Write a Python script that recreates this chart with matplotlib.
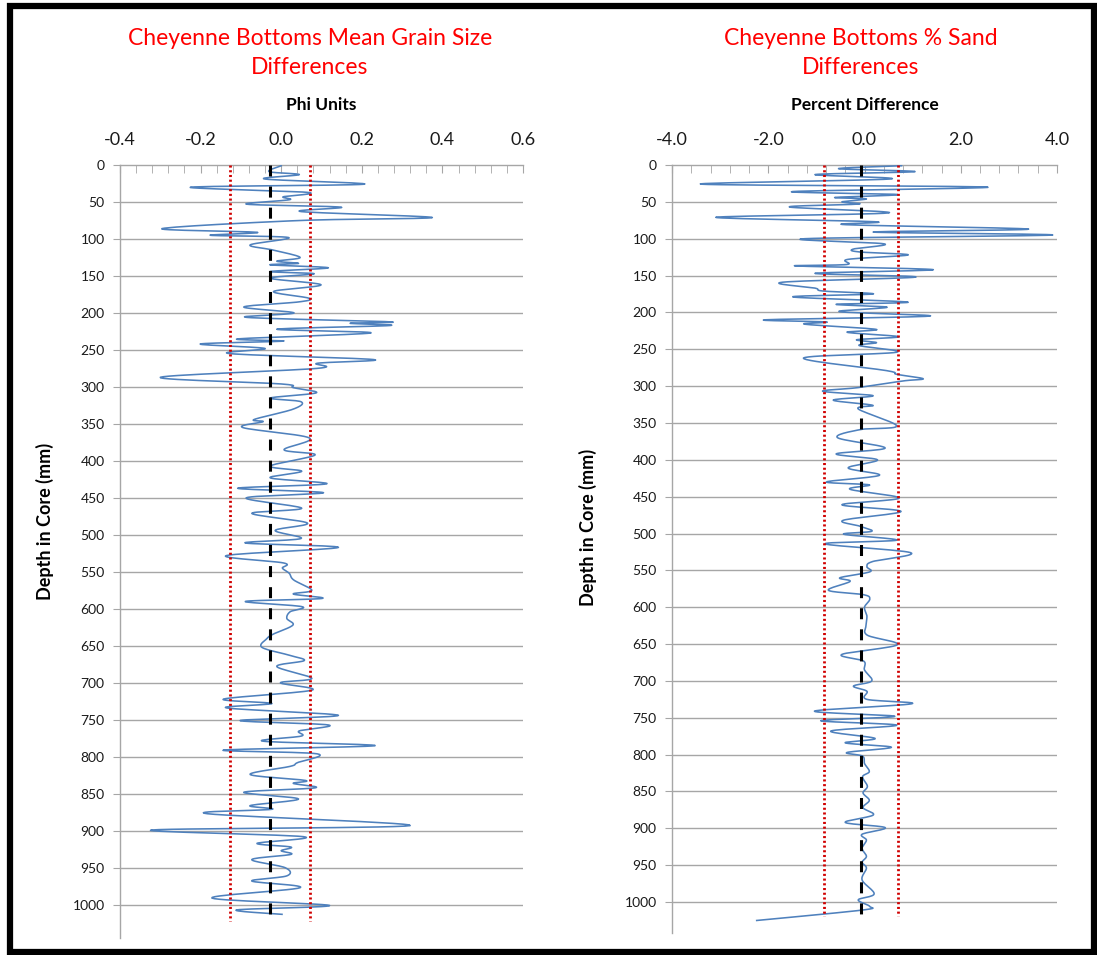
import numpy as np
import matplotlib
matplotlib.use("Agg")
import matplotlib.pyplot as plt
from matplotlib.patches import Rectangle

plt.rcParams['font.family'] = ['Lato', 'DejaVu Sans']

# Mean grain size differences (phi units) down the core
grain_depth = [1, 9, 13, 19, 26, 30, 37, 43, 47, 53, 57, 63, 71, 75, 86, 91, 95, 98,
               108, 115, 125, 130, 133, 135, 139, 144, 147, 153, 162, 171, 180, 185,
               192, 200, 206, 212, 214, 217, 222, 227, 235, 238, 242, 248, 255, 263,
               268, 275, 287, 296, 301, 308, 315, 320, 330, 344, 347, 355, 369, 385,
               392, 407, 414, 423, 431, 437, 443, 450, 464, 471, 484, 494, 505, 511,
               517, 528, 538, 545, 552, 561, 575, 580, 586, 590, 597, 604, 613, 622,
               634, 640, 652, 663, 670, 678, 694, 700, 710, 722, 728, 734, 744, 751,
               757, 765, 772, 779, 785, 791, 796, 808, 813, 824, 832, 836, 842, 848,
               857, 866, 871, 877, 893, 899, 908, 917, 922, 927, 932, 939, 950, 961,
               968, 977, 991, 1001, 1007, 1013]
grain_diff = [0.00, -0.03, 0.045, -0.04, 0.205, -0.225, 0.065, 0.005, 0.02, -0.085,
              0.148, 0.05, 0.375, 0.047, -0.296, -0.06, -0.176, 0.018, -0.077, -0.02,
              0.047, -0.011, 0.043, -0.027, 0.117, -0.027, 0.082, -0.027, 0.099,
              -0.019, 0.068, 0.045, -0.093, 0.032, -0.085, 0.27, 0.171, 0.27, -0.011,
              0.223, -0.106, 0.006, -0.201, -0.04, -0.127, 0.229, 0.09, 0.088, -0.300,
              0.0, 0.03, 0.087, -0.027, 0.049, 0.03, -0.067, -0.045, -0.095, 0.07,
              0.007, 0.084, -0.027, 0.051, -0.027, 0.113, -0.108, 0.105, -0.087,
              0.051, -0.073, 0.065, -0.015, 0.049, -0.089, 0.142, -0.136, 0.006,
              0.003, 0.02, 0.031, 0.076, 0.03, 0.101, -0.089, 0.051, 0.022, 0.014,
              0.029, -0.019, -0.035, -0.048, 0.022, 0.057, -0.011, 0.076, -0.002,
              0.076, -0.143, -0.023, -0.135, 0.142, -0.102, 0.117, 0.045, 0.05,
              -0.044, 0.233, -0.143, 0.089, 0.04, 0.022, -0.077, 0.06, 0.03, 0.084,
              -0.093, 0.043, -0.077, -0.023, -0.183, 0.32, -0.321, 0.055, -0.06,
              0.024, 0.0, 0.024, -0.073, 0.01, 0.014, -0.073, 0.047, -0.172, 0.12,
              -0.11, 0.002]
grain_mean = -0.028
grain_sd = 0.100
grain_mean_end = 1015
grain_sd_end = 1022

# Percent sand differences down the core
sand_depth = [1, 5, 9, 13, 19, 26, 30, 36, 40, 44, 46, 50, 53, 57, 65, 71, 77, 81,
              87, 91, 95, 100, 107, 114, 118, 122, 128, 135, 137, 142, 147, 152, 159,
              167, 171, 175, 179, 186, 189, 193, 199, 205, 210, 213, 216, 223, 227,
              233, 237, 241, 245, 254, 262, 279, 284, 290, 293, 302, 307, 313, 319,
              326, 331, 354, 359, 370, 384, 392, 400, 411, 421, 430, 434, 440, 452,
              461, 470, 482, 490, 497, 501, 509, 514, 526, 538, 545, 552, 560, 565,
              577, 583, 589, 600, 612, 625, 638, 651, 664, 673, 685, 700, 707, 714,
              725, 731, 741, 748, 754, 760, 768, 778, 784, 790, 797, 802, 812, 823,
              830, 843, 852, 862, 872, 882, 892, 899, 908, 916, 927, 938, 946, 954,
              970, 989, 997, 1006, 1011, 1025]
sand_diff = [0.77, -0.54, 1.05, -1.03, 0.53, -3.4, 2.56, -1.49, 0.68, -0.61, 0.04,
             -0.47, -0.13, -1.56, 0.50, -3.09, 0.22, -0.38, 3.41, 0.18, 3.91, -1.24,
             0.41, -0.23, -0.1, 0.91, -0.34, -0.37, -1.41, 1.43, -1.03, 1.07, -1.70,
             -1.03, -0.86, 0.18, -1.49, 0.90, -0.59, 0.47, -0.52, 1.35, -2.05, -0.79,
             -1.24, 0.24, -0.36, 0.71, -0.16, 0.25, -0.11, 0.67, -1.27, 0.46, 0.67,
             1.22, 0.8, -0.13, -0.87, 0.18, -0.65, 0.17, -0.13, 0.67, -0.09, -0.56,
             0.43, -0.59, 0.27, -0.34, 0.31, -0.79, 0.10, -0.30, 0.72, -0.47, 0.76,
             -0.44, -0.1, 0.15, -0.43, 0.67, -0.82, 0.96, 0.17, 0.05, 0.11, -0.51,
             -0.30, -0.75, -0.02, 0.11, 0.0, 0.05, 0.03, 0.06, 0.68, -0.47, -0.02,
             0.0, 0.15, -0.23, 0.05, 0.05, 0.98, -1.04, 0.63, -0.91, 0.67, -0.70,
             0.22, -0.40, 0.56, -0.36, -0.04, 0.0, 0.10, -0.04, 0.06, -0.03, 0.10,
             -0.03, 0.18, -0.40, 0.43, -0.05, 0.04, -0.05, 0.04, -0.05, 0.04, -0.05,
             0.20, -0.13, 0.11, -0.06, -2.24]
sand_mean = -0.08
sand_sd = 0.77
sand_mean_end = 1024
sand_sd_end = 1019

depth_ticks = np.arange(0, 1001, 50)
grain_ticks = [-0.4, -0.2, 0.0, 0.2, 0.4, 0.6]
sand_ticks = [-4.0, -2.0, 0.0, 2.0, 4.0]

LINE_BLUE = '#4f81bd'
GRID = '#a6a6a6'
RED = '#d00000'


def smooth(x, y, n=14):
    """Catmull-Rom curve through the points, like a smoothed spreadsheet line."""
    pts = np.column_stack([x, y]).astype(float)
    p = np.vstack([pts[0], pts, pts[-1]])
    t = np.linspace(0, 1, n, endpoint=False)[:, None]
    out = []
    for i in range(1, len(p) - 2):
        p0, p1, p2, p3 = p[i - 1], p[i], p[i + 1], p[i + 2]
        seg = 0.5 * (2 * p1 + (-p0 + p2) * t + (2 * p0 - 5 * p1 + 4 * p2 - p3) * t ** 2
                     + (-p0 + 3 * p1 - 3 * p2 + p3) * t ** 3)
        out.append(seg)
    out.append(pts[-1:])
    c = np.vstack(out)
    return c[:, 0], c[:, 1]


def core_panel(ax, vals, depth, mean, sd, mean_end, sd_end, xticks, minor, xlim, ylim,
               xlabel, fmt):
    for d in depth_ticks[1:]:
        ax.axhline(d, color=GRID, lw=1.0, zorder=0)
    sx, sy = smooth(vals, depth)
    ax.plot(sx, sy, color=LINE_BLUE, lw=1.15, zorder=3)
    ax.plot([mean, mean], [0, mean_end], color='k', lw=2.2, dashes=(3.6, 3.3), zorder=4)
    for v in (mean - sd, mean + sd):
        ax.plot([v, v], [0, sd_end], color=RED, lw=2.0, dashes=(0.75, 0.95), zorder=4)
    ax.set_xlim(xlim)
    ax.set_ylim(ylim, 0)
    ax.xaxis.tick_top()
    ax.xaxis.set_label_position('top')
    ax.set_xticks(xticks)
    ax.set_xticks(minor, minor=True)
    ax.set_xticklabels([fmt.format(v) for v in xticks])
    ax.tick_params(axis='x', which='both', direction='in', length=6, color=GRID,
                   labelsize=13, pad=12, labelcolor='#1a1a1a')
    ax.set_yticks(depth_ticks)
    ax.tick_params(axis='y', direction='out', length=5, color=GRID, labelsize=10,
                   pad=6, labelcolor='#1a1a1a')
    ax.set_xlabel(xlabel, fontsize=12.5, fontweight='bold', labelpad=16)
    for s in ('right', 'bottom'):
        ax.spines[s].set_visible(False)
    for s in ('left', 'top'):
        ax.spines[s].set_color(GRID)
        ax.spines[s].set_linewidth(1.0)


fig = plt.figure(figsize=(10.97, 9.55), dpi=100)
W, H = 1097.0, 955.0

ax1 = fig.add_axes([120 / W, 1 - 938 / H, 403 / W, 773 / H])
core_panel(ax1, grain_diff, grain_depth, grain_mean, grain_sd, grain_mean_end, grain_sd_end,
           grain_ticks, np.arange(-0.4, 0.6001, 0.04), (-0.4, 0.6), 1045,
           'Phi Units', '{:.1f}')

ax2 = fig.add_axes([672 / W, 1 - 933 / H, 385 / W, 768 / H])
core_panel(ax2, sand_diff, sand_depth, sand_mean, sand_sd, sand_mean_end, sand_sd_end,
           sand_ticks, np.arange(-4.0, 4.001, 0.4), (-4.0, 4.0), 1042,
           'Percent Difference', '{:.1f}')

fig.text(310 / W, 1 - 53 / H, 'Cheyenne Bottoms Mean Grain Size\nDifferences',
         color='red', fontsize=16.5, ha='center', va='center', linespacing=1.5)
fig.text(861 / W, 1 - 53 / H, 'Cheyenne Bottoms % Sand\nDifferences',
         color='red', fontsize=16.5, ha='center', va='center', linespacing=1.5)
fig.text(45 / W, 1 - 521 / H, 'Depth in Core (mm)', rotation=90, fontsize=13,
         fontweight='bold', ha='center', va='center')
fig.text(588 / W, 1 - 527 / H, 'Depth in Core (mm)', rotation=90, fontsize=13,
         fontweight='bold', ha='center', va='center')

# heavy outer frame
fig.patches.append(Rectangle((10 / W, 3 / H), 1084 / W, 946 / H, transform=fig.transFigure,
                             fill=False, edgecolor='k', linewidth=4.5))

fig.savefig('out.png', dpi=100)
